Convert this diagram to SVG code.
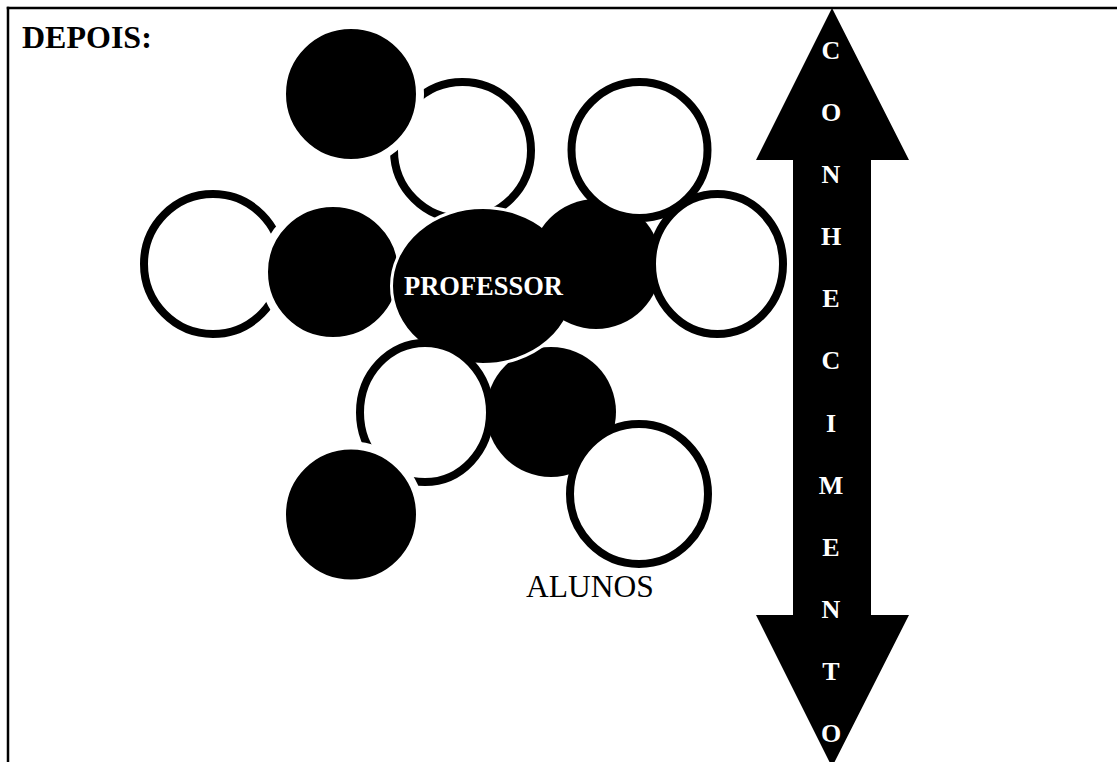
<svg xmlns="http://www.w3.org/2000/svg" width="1117" height="762" viewBox="0 0 1117 762">
  <style>
    .frame { stroke: #000; stroke-width: 2.5; fill: none; }
    .ring { fill: #fff; stroke: #000; stroke-width: 8; }
    .dot { fill: #000; stroke: #fff; stroke-width: 8; }
    .dot-plain { fill: #000; }
    .prof { fill: #000; stroke: #fff; stroke-width: 3; }
    .title { font-family: "Liberation Serif", "Times New Roman", serif; font-weight: bold; font-size: 32px; fill: #000; }
    .ptext { font-family: "Liberation Serif", "Times New Roman", serif; font-weight: bold; font-size: 26.5px; fill: #fff; text-anchor: middle; }
    .alunos { font-family: "Liberation Serif", "Times New Roman", serif; font-size: 31.5px; fill: #000; }
    .arrowtxt { font-family: "Liberation Serif", "Times New Roman", serif; font-weight: bold; font-size: 26px; fill: #fff; text-anchor: middle; }
  </style>
  <rect width="1117" height="762" fill="#fff"/>
  <g id="frame">
    <line class="frame" x1="6.75" y1="8" x2="1117" y2="8"/>
    <line class="frame" x1="8" y1="6.75" x2="8" y2="762"/>
  </g>
  <g id="title">
    <text class="title" x="22" y="48">DEPOIS:</text>
  </g>
  <g id="ring-left"><ellipse class="ring" cx="213" cy="264" rx="69" ry="70"/></g>
  <g id="ring-top"><circle class="ring" cx="462.5" cy="150.5" r="68.5"/></g>
  <g id="dot-top"><circle class="dot" cx="351" cy="94" r="69"/></g>
  <g id="dot-left"><circle class="dot" cx="333" cy="272" r="69"/></g>
  <g id="dot-lower-mid"><circle class="dot-plain" cx="551" cy="412" r="65"/></g>
  <g id="professor">
    <ellipse class="prof" cx="483" cy="286" rx="91.5" ry="78.5"/>
  </g>
  <g id="dot-right"><circle class="dot-plain" cx="596" cy="264" r="65"/></g>
  <g id="ring-top-right"><circle class="ring" cx="639.5" cy="150" r="68"/></g>
  <g id="ring-right"><ellipse class="ring" cx="717.5" cy="264" rx="65.5" ry="70"/></g>
  <g id="ring-lower-left"><ellipse class="ring" cx="425" cy="412.5" rx="65" ry="69.5"/></g>
  <g id="ring-lower-right"><ellipse class="ring" cx="639" cy="494" rx="69" ry="70"/></g>
  <g id="dot-bottom"><circle class="dot" cx="351" cy="514.5" r="69"/></g>
  <g id="professor-label">
    <text class="ptext" x="483.5" y="295">PROFESSOR</text>
  </g>
  <g id="alunos-label">
    <text class="alunos" x="526" y="597">ALUNOS</text>
  </g>
  <g id="conhecimento">
    <polygon fill="#000" points="832,8 909,160 871,160 871,615 909,615 832,767 756,615 793,615 793,160 756,160"/>
    <text class="arrowtxt" x="831" y="59">C</text>
    <text class="arrowtxt" x="831" y="121">O</text>
    <text class="arrowtxt" x="831" y="183">N</text>
    <text class="arrowtxt" x="831" y="245">H</text>
    <text class="arrowtxt" x="831" y="307">E</text>
    <text class="arrowtxt" x="831" y="369">C</text>
    <text class="arrowtxt" x="831" y="432">I</text>
    <text class="arrowtxt" x="831" y="494">M</text>
    <text class="arrowtxt" x="831" y="556">E</text>
    <text class="arrowtxt" x="831" y="618">N</text>
    <text class="arrowtxt" x="831" y="680">T</text>
    <text class="arrowtxt" x="831" y="742">O</text>
  </g>
  <g id="connectors"/>
</svg>
